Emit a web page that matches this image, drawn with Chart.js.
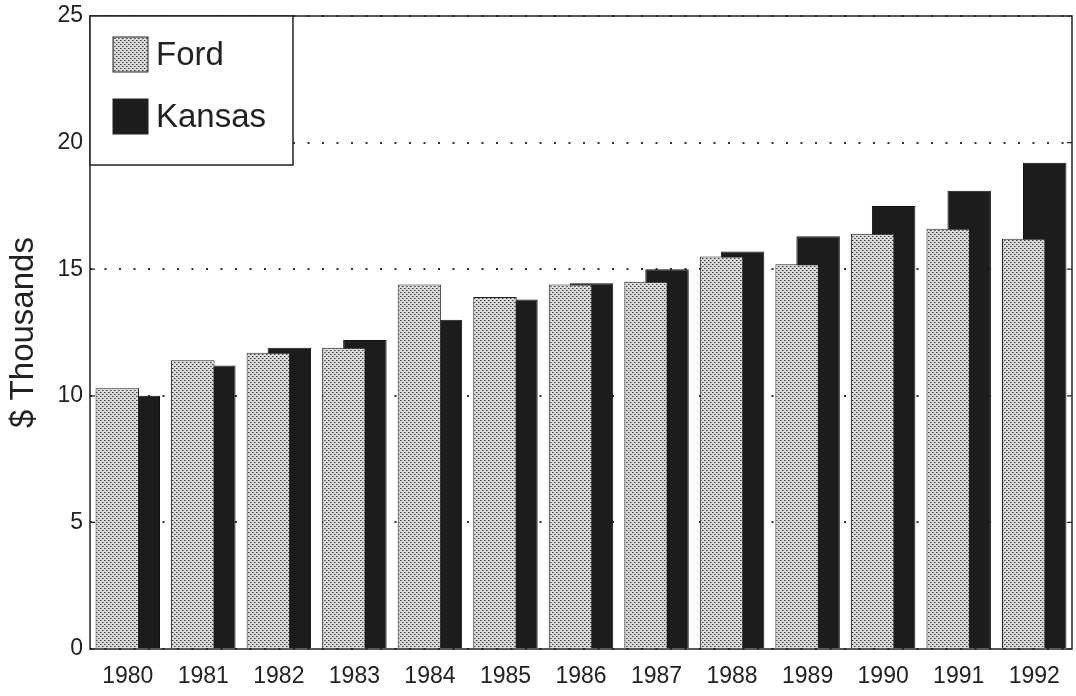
<!DOCTYPE html>
<html>
<head>
<meta charset="utf-8">
<script src="https://cdn.jsdelivr.net/npm/chart.js@4/dist/chart.umd.min.js"></script>
<style>
  body { margin: 0; background: #fff; }
</style>
</head>
<body>
<canvas id="myChart" width="1076" height="696"></canvas>
<script>
const years = ['1980','1981','1982','1983','1984','1985','1986','1987','1988','1989','1990','1991','1992'];
const ford = [10.3, 11.4, 11.7, 11.9, 14.4, 13.9, 14.4, 14.5, 15.5, 15.2, 16.4, 16.6, 16.2];
const kansas = [10.0, 11.2, 11.9, 12.2, 13.0, 13.8, 14.45, 15.0, 15.7, 16.3, 17.5, 18.1, 19.2];
const yTicks = [0, 5, 10, 15, 20, 25];

// stipple fill for the Ford bars
function stipple() {
    let c = document.createElement('canvas');
    c.width = 4; c.height = 4;
    let g = c.getContext('2d');
    g.fillStyle = '#dadada';
    g.fillRect(0, 0, 4, 4);
    g.fillStyle = '#3a3a3a';
    g.fillRect(0, 0, 1, 1);
    g.fillRect(2, 2, 1, 1);
    g.fillStyle = '#8a8a8a';
    g.fillRect(1, 0, 1, 1);
    g.fillRect(3, 2, 1, 1);
    return g.createPattern(c, 'repeat');
}
const fordFill = stipple();

const font = 'Liberation Sans, Arial, Helvetica, sans-serif';

// box round the plot, inner ticks and the legend box
const frame = {
    id: 'frame',
    afterDatasetsDraw(chart) {
        const ctx = chart.ctx;
        const a = chart.chartArea;
        const y = chart.scales.y;
        ctx.save();
        ctx.strokeStyle = '#222';
        ctx.lineWidth = 1.5;
        ctx.strokeRect(a.left, a.top, a.right - a.left, a.bottom - a.top);
        ctx.lineWidth = 1.2;
        yTicks.forEach(v => {
            const py = y.getPixelForValue(v);
            ctx.beginPath();
            ctx.moveTo(a.left, py); ctx.lineTo(a.left + 5, py);
            ctx.moveTo(a.right - 5, py); ctx.lineTo(a.right, py);
            ctx.stroke();
        });
        // legend
        ctx.fillStyle = '#fff';
        ctx.fillRect(a.left, a.top, 203, 149);
        ctx.lineWidth = 1.5;
        ctx.strokeRect(a.left, a.top, 203, 149);
        ctx.font = '33px ' + font;
        ctx.textBaseline = 'middle';
        chart.data.datasets.forEach((ds, i) => {
            const top = a.top + 21 + i * 62;
            ctx.fillStyle = ds.backgroundColor;
            ctx.fillRect(a.left + 23, top, 35, 35);
            ctx.lineWidth = 1;
            ctx.strokeStyle = '#222';
            ctx.strokeRect(a.left + 23, top, 35, 35);
            ctx.fillStyle = '#222';
            ctx.fillText(ds.label, a.left + 66, top + 19);
        });
        ctx.restore();
    }
};

let myChart = document.getElementById("myChart").getContext('2d');
let incomeChart = new Chart(myChart, {
    type: 'bar',
    data: {
        labels: years,
        datasets: [{
            label: 'Ford',
            data: ford,
            backgroundColor: fordFill,
            borderColor: '#222',
            borderWidth: 1,
            categoryPercentage: 0.556,
            barPercentage: 2.07
        }, {
            label: 'Kansas',
            data: kansas,
            backgroundColor: '#1c1c1c',
            borderColor: '#111',
            borderWidth: 1,
            categoryPercentage: 0.556,
            barPercentage: 2.07
        }]
    },
    options: {
        responsive: false,
        animation: false,
        layout: { padding: { top: 16, right: 4, left: 0, bottom: 0 } },
        plugins: {
            legend: { display: false },
            tooltip: { enabled: false }
        },
        scales: {
            x: {
                grid: { display: false },
                border: { display: false },
                ticks: { color: '#222', font: { family: font, size: 23 }, padding: 6, maxRotation: 0 },
                afterFit(s) { s.height = 47; s.paddingLeft = 0; s.paddingRight = 0; }
            },
            y: {
                min: 0, max: 25,
                afterBuildTicks(s) { s.ticks = yTicks.map(v => ({ value: v })); },
                grid: { color: '#333', lineWidth: 2, drawTicks: false },
                border: { display: false, dash: [2, 12.5] },
                ticks: { color: '#222', font: { family: font, size: 23 }, padding: 7 },
                title: {
                    display: true,
                    text: '$ Thousands',
                    color: '#222',
                    font: { family: font, size: 33 },
                    padding: { top: 4, bottom: 0 }
                },
                afterFit(s) { s.width = 90; s.paddingTop = 0; s.paddingBottom = 0; }
            }
        }
    },
    plugins: [frame]
});
</script>
</body>
</html>
